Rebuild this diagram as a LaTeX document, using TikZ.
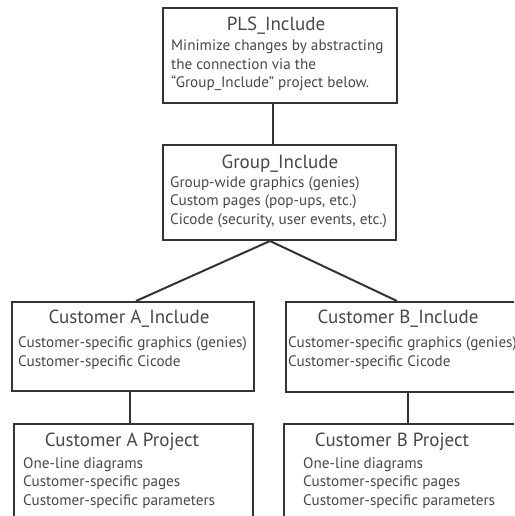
\documentclass[tikz,border=0pt]{standalone}
\usepackage{fontspec}
\setmainfont{PT Sans}
\usetikzlibrary{calc}
\definecolor{edge}{HTML}{333333}
\definecolor{ink}{HTML}{484848}
\begin{document}
\begin{tikzpicture}[x=1pt,y=-1pt,
  box/.style={draw=edge,line width=2pt,fill=white,inner sep=0pt,anchor=north west},
  conn/.style={draw=edge,line width=2pt},
  ttl/.style={text=ink,font=\fontsize{19}{22}\selectfont,inner sep=0pt,anchor=base},
  body/.style={text=ink,font=\fontsize{15.2}{18.5}\selectfont,inner sep=0pt,anchor=base west,align=left}]
\useasboundingbox (0,0) rectangle (514,516);
\clip (0,0) rectangle (514,516);
\fill[white] (0,0) rectangle (514,516);
% boxes
\node[box,minimum width=234pt,minimum height=95pt] (pls) at (162,7) {};
\node[box,minimum width=233pt,minimum height=95pt] (grp) at (162,144) {};
\node[box,minimum width=242pt,minimum height=89pt] (ainc) at (11,301) {};
\node[box,minimum width=245pt,minimum height=90pt] (binc) at (285,301) {};
\node[box,minimum width=239pt,minimum height=120pt] (aproj) at (13,423) {};
\node[box,minimum width=247pt,minimum height=120pt] (bproj) at (283,423) {};
% connectors
\draw[conn] ($(pls.south west)+(111,0)$) -- ($(grp.north west)+(111,0)$);
\draw[conn] ($(grp.south west)+(108,0)$) -- ($(ainc.north west)+(125,0)$);
\draw[conn] ($(grp.south west)+(108,0)$) -- ($(binc.north west)+(112,0)$);
\draw[conn] ($(ainc.south west)+(119,0)$) -- ($(aproj.north west)+(117,0)$);
\draw[conn] ($(binc.south west)+(123,0)$) -- ($(bproj.north west)+(125,0)$);
% texts (body anchored at baseline of last line)
\node[ttl] (plst) at (276,31) {PLS\_Include};
\node[body] (plsb) at (171,88) {Minimize changes by abstracting\\the connection via the\\“Group\_Include” project below.};
\node[ttl] (grpt) at (280,168) {Group\_Include};
\node[body] (grpb) at (170,224) {Group-wide graphics (genies)\\Custom pages (pop-ups, etc.)\\Cicode (security, user events, etc.)};
\node[ttl] (ainct) at (129,323) {Customer A\_Include};
\node[body] (aincb) at (18,366) {Customer-specific graphics (genies)\\Customer-specific Cicode};
\node[ttl] (binct) at (398,323) {Customer B\_Include};
\node[body] (bincb) at (288,366) {Customer-specific graphics (genies)\\Customer-specific Cicode};
\node[ttl] (aprojt) at (122,446) {Customer A Project};
\node[body] (aprojb) at (23,505) {One-line diagrams\\Customer-specific pages\\Customer-specific parameters};
\node[ttl] (bprojt) at (392,446) {Customer B Project};
\node[body] (bprojb) at (303,505) {One-line diagrams\\Customer-specific pages\\Customer-specific parameters};
\end{tikzpicture}
\end{document}
